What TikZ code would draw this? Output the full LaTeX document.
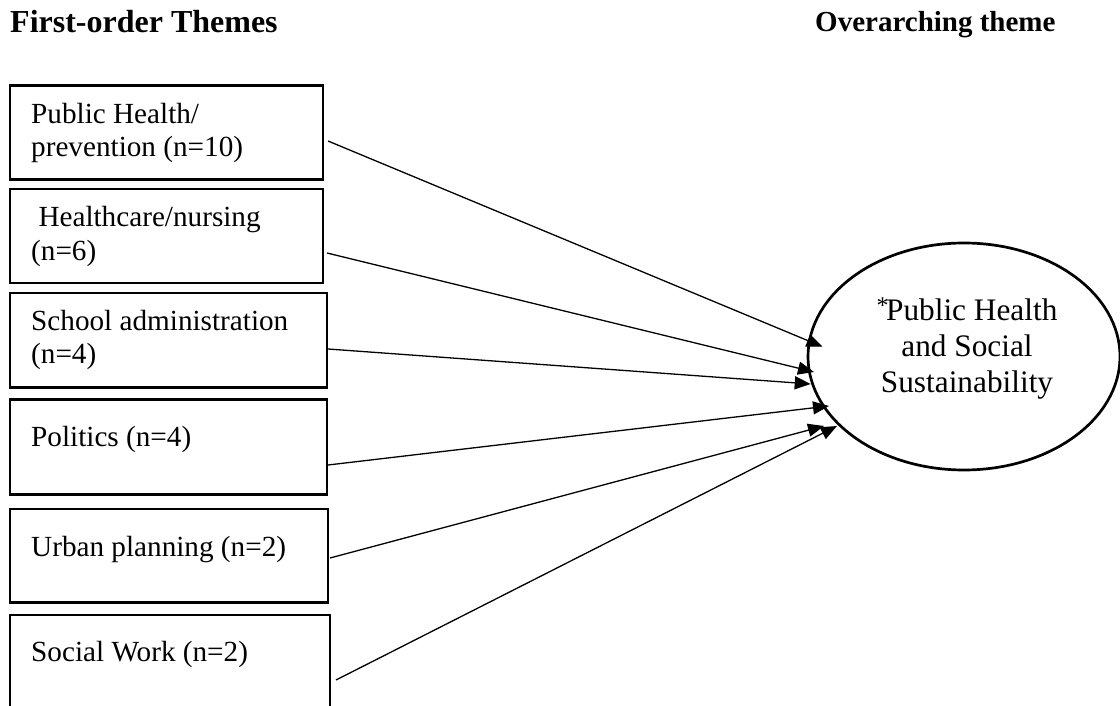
\documentclass[tikz,border=0pt]{standalone}
\usepackage{fontspec}
\setmainfont{Liberation Serif}
\usetikzlibrary{arrows.meta,shapes.geometric}

\begin{document}
\begin{tikzpicture}[x=1pt,y=-1pt,
  themebox/.style={draw, line width=2.7pt, inner sep=0pt},
  boxlabel/.style={anchor=base west, inner sep=0pt,
    font=\fontsize{29.2}{33.5}\selectfont},
  heading/.style={anchor=base west, inner sep=0pt},
  link/.style={line width=1.3pt, -{Triangle[length=16pt,width=13pt]}}]

\useasboundingbox (0,0) rectangle (1120,706);
\clip (0,0) rectangle (1120,706);

% column headings
\node[heading, font=\fontsize{32}{38}\selectfont\bfseries] (h1) at (10,33) {First-order Themes};
\node[heading, font=\fontsize{29}{35}\selectfont\bfseries] (h2) at (815,32) {Overarching theme};

% first-order theme boxes
\node[themebox, minimum width=313pt, minimum height=94pt]   (b1) at (166.5,132.5) {};
\node[themebox, minimum width=313pt, minimum height=94pt]   (b2) at (166.5,236)   {};
\node[themebox, minimum width=317pt, minimum height=94.5pt] (b3) at (168.5,340.2) {};
\node[themebox, minimum width=317pt, minimum height=95pt]   (b4) at (168.5,447)   {};
\node[themebox, minimum width=318pt, minimum height=93.7pt] (b5) at (169,555.8)   {};
\node[themebox, minimum width=320pt, minimum height=105pt]  (b6) at (170,667.5)   {};

\node[boxlabel] (l1) at (31,123.3) {\parbox[t]{290pt}{\raggedright Public Health/\\prevention (n=10)}};
\node[boxlabel] (l2) at (31,226.7) {\parbox[t]{290pt}{\raggedright \hspace*{7.3pt}Healthcare/nursing\\(n=6)}};
\node[boxlabel] (l3) at (31,330)   {\parbox[t]{290pt}{\raggedright School administration\\(n=4)}};
\node[boxlabel] (l4) at (31,446.7) {Politics (n=4)};
\node[boxlabel] (l5) at (31,556.7) {Urban planning (n=2)};
\node[boxlabel] (l6) at (31,661)   {Social Work (n=2)};

% overarching theme
\node[draw, ellipse, line width=2.7pt, minimum width=312pt, minimum height=227pt,
      inner sep=0pt] (sust) at (964,356.5) {};
\node[anchor=base, inner sep=0pt, font=\fontsize{31.3}{36}\selectfont] (sustlabel) at (967,320)
  {\parbox[t]{250pt}{\centering\raisebox{7pt}{\fontsize{24}{24}\selectfont *}\kern-2.5pt Public Health\\and Social\\Sustainability}};

% connector ends
\coordinate (s1) at (328,141);   \coordinate (t1) at (822.5,346.7);
\coordinate (s2) at (327,253);   \coordinate (t2) at (814,372);
\coordinate (s3) at (328,349);   \coordinate (t3) at (810.7,384);
\coordinate (s4) at (328,465);   \coordinate (t4) at (829,406);
\coordinate (s5) at (330,558);   \coordinate (t5) at (824,426);
\coordinate (s6) at (336,680);   \coordinate (t6) at (837,426);

\draw[link] (s1) -- (t1);
\draw[link] (s2) -- (t2);
\draw[link] (s3) -- (t3);
\draw[link] (s4) -- (t4);
\draw[link] (s5) -- (t5);
\draw[link] (s6) -- (t6);
\end{tikzpicture}
\end{document}
